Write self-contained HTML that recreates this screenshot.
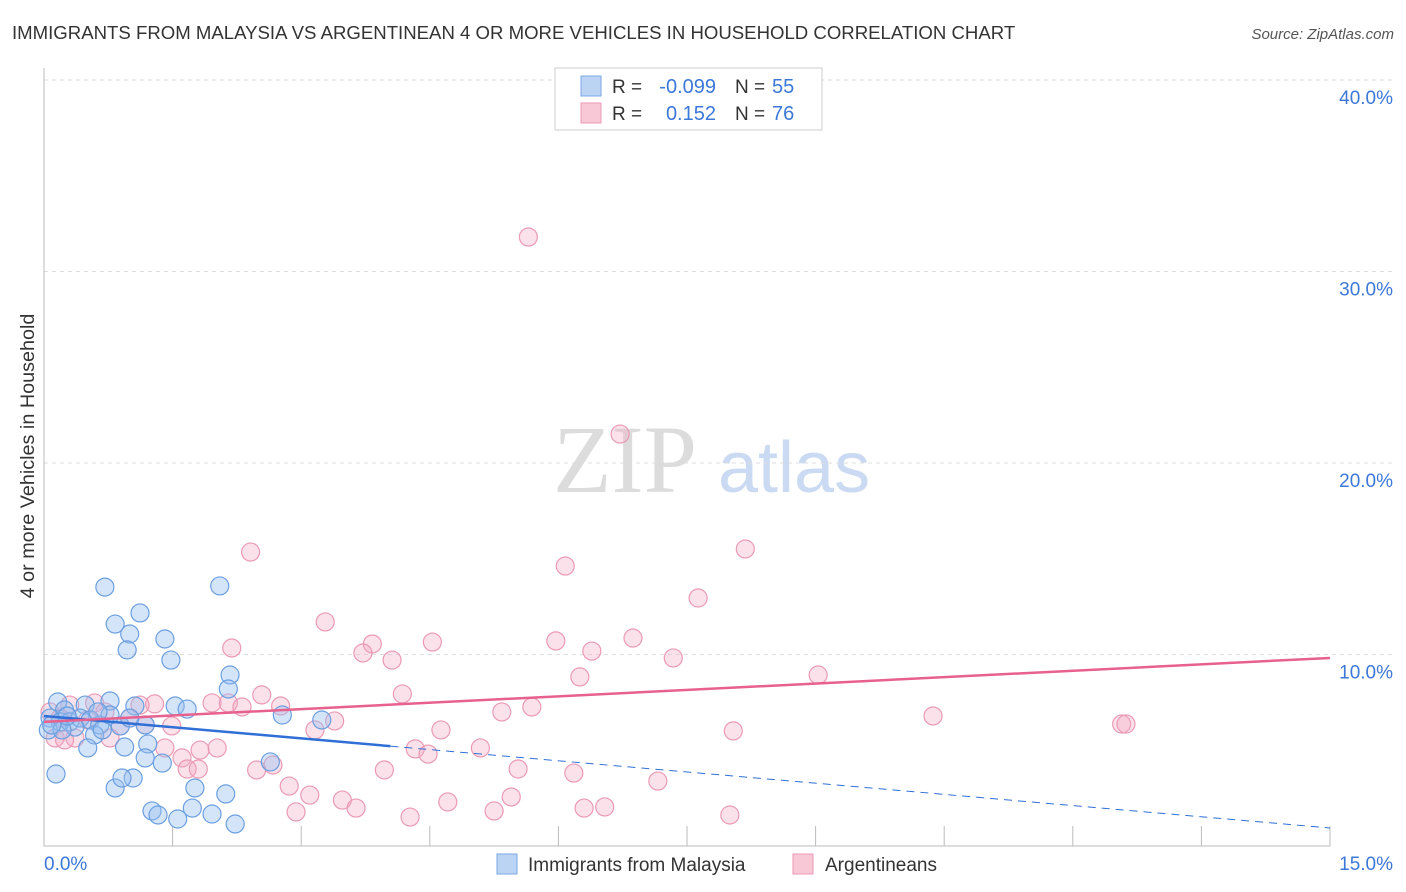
<!DOCTYPE html>
<html><head><meta charset="utf-8"><style>
body{margin:0;background:#fff;font-family:"Liberation Sans",sans-serif;}
svg{display:block}
</style></head><body>
<svg id="chart" width="1406" height="892">
<text x="12" y="39" font-size="18.6" fill="#333">IMMIGRANTS FROM MALAYSIA VS ARGENTINEAN 4 OR MORE VEHICLES IN HOUSEHOLD CORRELATION CHART</text>
<text x="1394" y="39" font-size="15" fill="#555" font-style="italic" text-anchor="end">Source: ZipAtlas.com</text>
<g>
<text x="553" y="492" font-size="96" font-family="Liberation Serif,serif" fill="#dcdcdc">ZIP</text>
<text x="718" y="492" font-size="72" fill="#c9daf2">atlas</text>
</g>
<g id="grid"></g>
<g id="axes"></g>
<g id="marks"></g>
<text transform="translate(34,456) rotate(-90)" font-size="19.8" fill="#333" text-anchor="middle">4 or more Vehicles in Household</text>
<g>
<rect x="555" y="68" width="267" height="62" fill="#fff" stroke="#ccc"/>
<rect x="581" y="76" width="20" height="20" fill="#bcd4f4" stroke="#7aa8e6"/>
<rect x="581" y="103" width="20" height="20" fill="#f8c8d6" stroke="#ec9ab4"/>
<text x="612" y="93" font-size="19" fill="#333">R =</text>
<text x="716" y="93" font-size="20" fill="#3c78d8" text-anchor="end">-0.099</text>
<text x="735" y="93" font-size="19" fill="#333">N =</text>
<text x="772" y="93" font-size="20" fill="#3c78d8">55</text>
<text x="612" y="120" font-size="19" fill="#333">R =</text>
<text x="716" y="120" font-size="20" fill="#3c78d8" text-anchor="end">0.152</text>
<text x="735" y="120" font-size="19" fill="#333">N =</text>
<text x="772" y="120" font-size="20" fill="#3c78d8">76</text>
</g>
<g>
<rect x="497" y="854" width="20" height="20" fill="#bcd4f4" stroke="#7aa8e6"/>
<text x="528" y="871" font-size="19" fill="#333">Immigrants from Malaysia</text>
<rect x="793" y="854" width="20" height="20" fill="#f8c8d6" stroke="#ec9ab4"/>
<text x="825" y="871" font-size="19" fill="#333">Argentineans</text>
</g>
</svg>
<script>
const xTicks=[0,15];
const yTicks=[10,20,30,40];
const blueX=[0.14,0.71,0.83,1.00,0.97,1.12,1.41,1.48,2.05,2.17,2.15,1.53,1.67,0.77,1.06,0.16,0.24,0.48,0.07,0.19,0.30,0.42,0.54,0.65,0.59,0.51,0.94,1.21,1.18,0.68,0.89,0.83,1.04,0.91,1.18,1.38,1.76,2.12,1.26,1.33,1.56,1.73,1.96,2.23,2.64,2.78,3.24,0.05,0.36,0.21,0.09,0.77,0.27,0.63,1.00];
const blueY=[3.76,13.52,11.59,11.07,10.24,12.17,10.81,9.71,13.58,8.93,8.20,7.31,7.15,7.57,7.31,7.52,7.10,7.36,6.68,6.48,6.48,6.68,6.58,6.32,5.80,5.12,5.17,5.33,6.32,6.06,6.27,3.03,3.55,3.55,4.60,4.33,3.03,2.72,1.83,1.62,1.41,1.98,1.67,1.15,4.39,6.84,6.58,6.06,6.21,6.06,6.32,6.84,6.79,7.00,6.68];
const pinkX=[5.65,6.72,2.41,6.08,8.18,7.63,3.28,2.19,3.83,3.72,4.06,4.53,5.97,6.39,6.87,7.34,6.25,9.03,2.54,2.76,4.18,5.34,5.69,8.04,10.37,12.57,12.62,3.16,3.39,4.63,1.96,2.15,2.31,1.29,1.12,0.59,0.71,1.00,0.89,1.18,1.49,1.41,1.61,1.82,2.02,1.67,1.80,2.48,2.67,2.86,3.10,2.94,3.48,3.64,3.97,4.33,4.48,5.09,5.53,6.18,7.16,4.71,5.25,5.45,6.30,6.54,4.27,8.00,0.07,0.19,0.36,0.51,0.30,0.13,0.24,0.77];
const pinkY=[31.80,21.51,15.35,14.62,15.51,12.95,11.70,10.34,10.55,10.08,9.71,10.65,10.71,10.18,10.86,9.82,8.83,8.93,7.89,7.31,7.94,7.00,7.26,6.01,6.79,6.37,6.37,6.06,6.53,6.06,7.47,7.47,7.26,7.42,7.36,7.47,7.00,6.68,6.27,6.32,6.27,5.12,4.60,5.01,5.12,4.02,4.02,3.97,4.23,3.13,2.66,1.78,2.40,1.98,3.97,5.07,4.80,5.12,4.02,3.81,3.39,2.30,1.83,2.56,1.98,2.04,1.51,1.62,7.00,6.68,5.64,6.58,7.36,5.64,5.54,5.64];
const blueTrend=[6.79,0.94], blueSolidEnd=4.04;
const pinkTrend=[6.48,9.82];
const NS='http://www.w3.org/2000/svg';
const X=v=>44+v/15*1286, Y=v=>846-v*19.15;
function mk(t,a,p){const e=document.createElementNS(NS,t);for(const k in a)e.setAttribute(k,a[k]);p.appendChild(e);return e;}
const grid=document.getElementById('grid'),axes=document.getElementById('axes'),marks=document.getElementById('marks');
yTicks.forEach(t=>{
 const l=mk('line',{x1:44,x2:1392,y1:Y(t),y2:Y(t),stroke:'#ddd','stroke-dasharray':'4,4'},grid);
 
 
 const tx=mk('text',{x:1393,y:Y(t)+24,'font-size':19,fill:'#3c78d8','text-anchor':'end'},axes);
 tx.textContent=t.toFixed(1)+'%';
 
 
});
for(let i=1;i<=10;i++){const v=i*1.5;
 const l=mk('line',{x1:X(v),x2:X(v),y1:826,y2:846,stroke:'#bbb'},axes);
 
 }
const ax=mk('path',{d:'M44,68V846H1330',stroke:'#bbb',fill:'none'},axes);


xTicks.forEach((t,i)=>{const tx=mk('text',{x:i?1393:44,y:870,'font-size':19,fill:'#3c78d8','text-anchor':i?'end':'start'},axes);
 tx.textContent=t.toFixed(1)+'%';
 
 });
pinkX.forEach((x,i)=>{const c=mk('circle',{cx:X(x),cy:Y(pinkY[i]),r:9,fill:'rgba(244,170,194,0.35)',stroke:'#eb9ab4','stroke-width':1.2},marks);
 
 });
blueX.forEach((x,i)=>{const c=mk('circle',{cx:X(x),cy:Y(blueY[i]),r:9,fill:'rgba(150,190,240,0.4)',stroke:'#6b9fe0','stroke-width':1.2},marks);
 
 });
const bAt=v=>blueTrend[0]+(blueTrend[1]-blueTrend[0])*v/15;
let l=mk('line',{x1:X(0),y1:Y(bAt(0)),x2:X(blueSolidEnd),y2:Y(bAt(blueSolidEnd)),stroke:'#2f6fd6','stroke-width':2.5},marks);


l=mk('line',{x1:X(blueSolidEnd),y1:Y(bAt(blueSolidEnd)),x2:X(15),y2:Y(bAt(15)),stroke:'#2f6fd6','stroke-width':1,'stroke-dasharray':'8,6'},marks);


l=mk('line',{x1:X(0),y1:Y(pinkTrend[0]),x2:X(15),y2:Y(pinkTrend[1]),stroke:'#e8608e','stroke-width':2.5},marks);


</script>
</body></html>
